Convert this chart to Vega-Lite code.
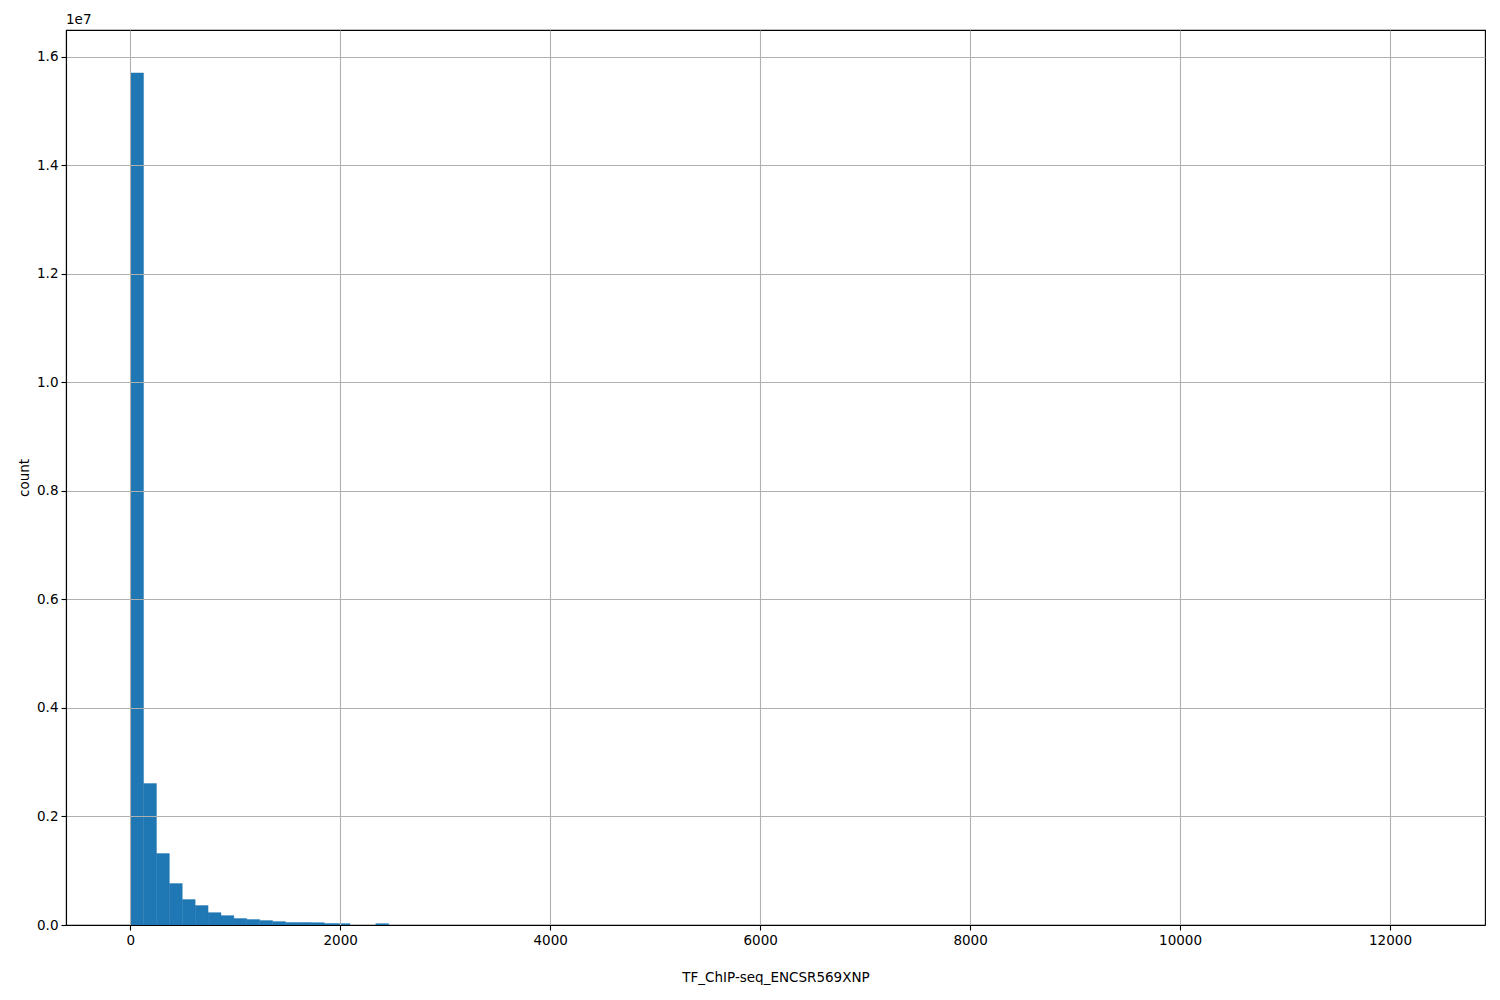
{
  "$schema": "https://vega.github.io/schema/vega-lite/v6.json",
  "width": 1419,
  "height": 895,
  "autosize": "none",
  "padding": {"left": 66, "top": 30, "right": 15, "bottom": 75},
  "background": "white",
  "title": {"text": "1e7", "anchor": "start", "frame": "group", "fontSize": 13.5, "fontWeight": "normal", "font": "DejaVu Sans", "color": "black", "offset": 4},
  "data": {
    "values": [
      {"bin_start": 4, "bin_end": 126.9, "count": 15700000},
      {"bin_start": 126.9, "bin_end": 249.8, "count": 2606000},
      {"bin_start": 249.8, "bin_end": 372.7, "count": 1317000},
      {"bin_start": 372.7, "bin_end": 495.6, "count": 764000},
      {"bin_start": 495.6, "bin_end": 618.5, "count": 468000},
      {"bin_start": 618.5, "bin_end": 741.4, "count": 357000},
      {"bin_start": 741.4, "bin_end": 864.3, "count": 228000},
      {"bin_start": 864.3, "bin_end": 987.2, "count": 173000},
      {"bin_start": 987.2, "bin_end": 1110.1, "count": 119000},
      {"bin_start": 1110.1, "bin_end": 1233, "count": 100000},
      {"bin_start": 1233, "bin_end": 1355.9, "count": 82000},
      {"bin_start": 1355.9, "bin_end": 1478.8, "count": 63000},
      {"bin_start": 1478.8, "bin_end": 1601.7, "count": 47000},
      {"bin_start": 1601.7, "bin_end": 1724.6, "count": 45000},
      {"bin_start": 1724.6, "bin_end": 1847.5, "count": 43000},
      {"bin_start": 1847.5, "bin_end": 1970.4, "count": 28000},
      {"bin_start": 1970.4, "bin_end": 2093.3, "count": 26000},
      {"bin_start": 2339.1, "bin_end": 2462, "count": 25000}
    ]
  },
  "mark": {"type": "rect", "color": "#1f77b4", "stroke": "#1f77b4", "strokeWidth": 0.4},
  "encoding": {
    "x": {
      "field": "bin_start", "type": "quantitative",
      "scale": {"domain": [-612, 12905], "nice": false, "zero": false},
      "axis": {
        "title": "TF_ChIP-seq_ENCSR569XNP",
        "values": [0, 2000, 4000, 6000, 8000, 10000, 12000],
        "format": "d",
        "zindex": 1,
        "titlePadding": 24
      }
    },
    "x2": {"field": "bin_end"},
    "y": {
      "field": "count", "type": "quantitative",
      "scale": {"domain": [0, 16490000], "nice": false},
      "axis": {
        "title": "count",
        "values": [0, 2000000, 4000000, 6000000, 8000000, 10000000, 12000000, 14000000, 16000000],
        "labelExpr": "format(datum.value / 10000000, '.1f')",
        "zindex": 1,
        "titlePadding": 5
      }
    },
    "y2": {"datum": 0}
  },
  "config": {
    "font": "DejaVu Sans",
    "view": {"stroke": "black", "strokeWidth": 1.1},
    "axis": {
      "grid": true,
      "gridColor": "#b0b0b0",
      "gridWidth": 1.1,
      "domainColor": "black",
      "domainWidth": 1.1,
      "tickColor": "black",
      "tickWidth": 1.1,
      "tickSize": 5,
      "labelFont": "DejaVu Sans",
      "labelFontSize": 13.5,
      "labelColor": "black",
      "labelPadding": 3,
      "titleFont": "DejaVu Sans",
      "titleFontSize": 13.5,
      "titleFontWeight": "normal",
      "titleColor": "black"
    }
  }
}
